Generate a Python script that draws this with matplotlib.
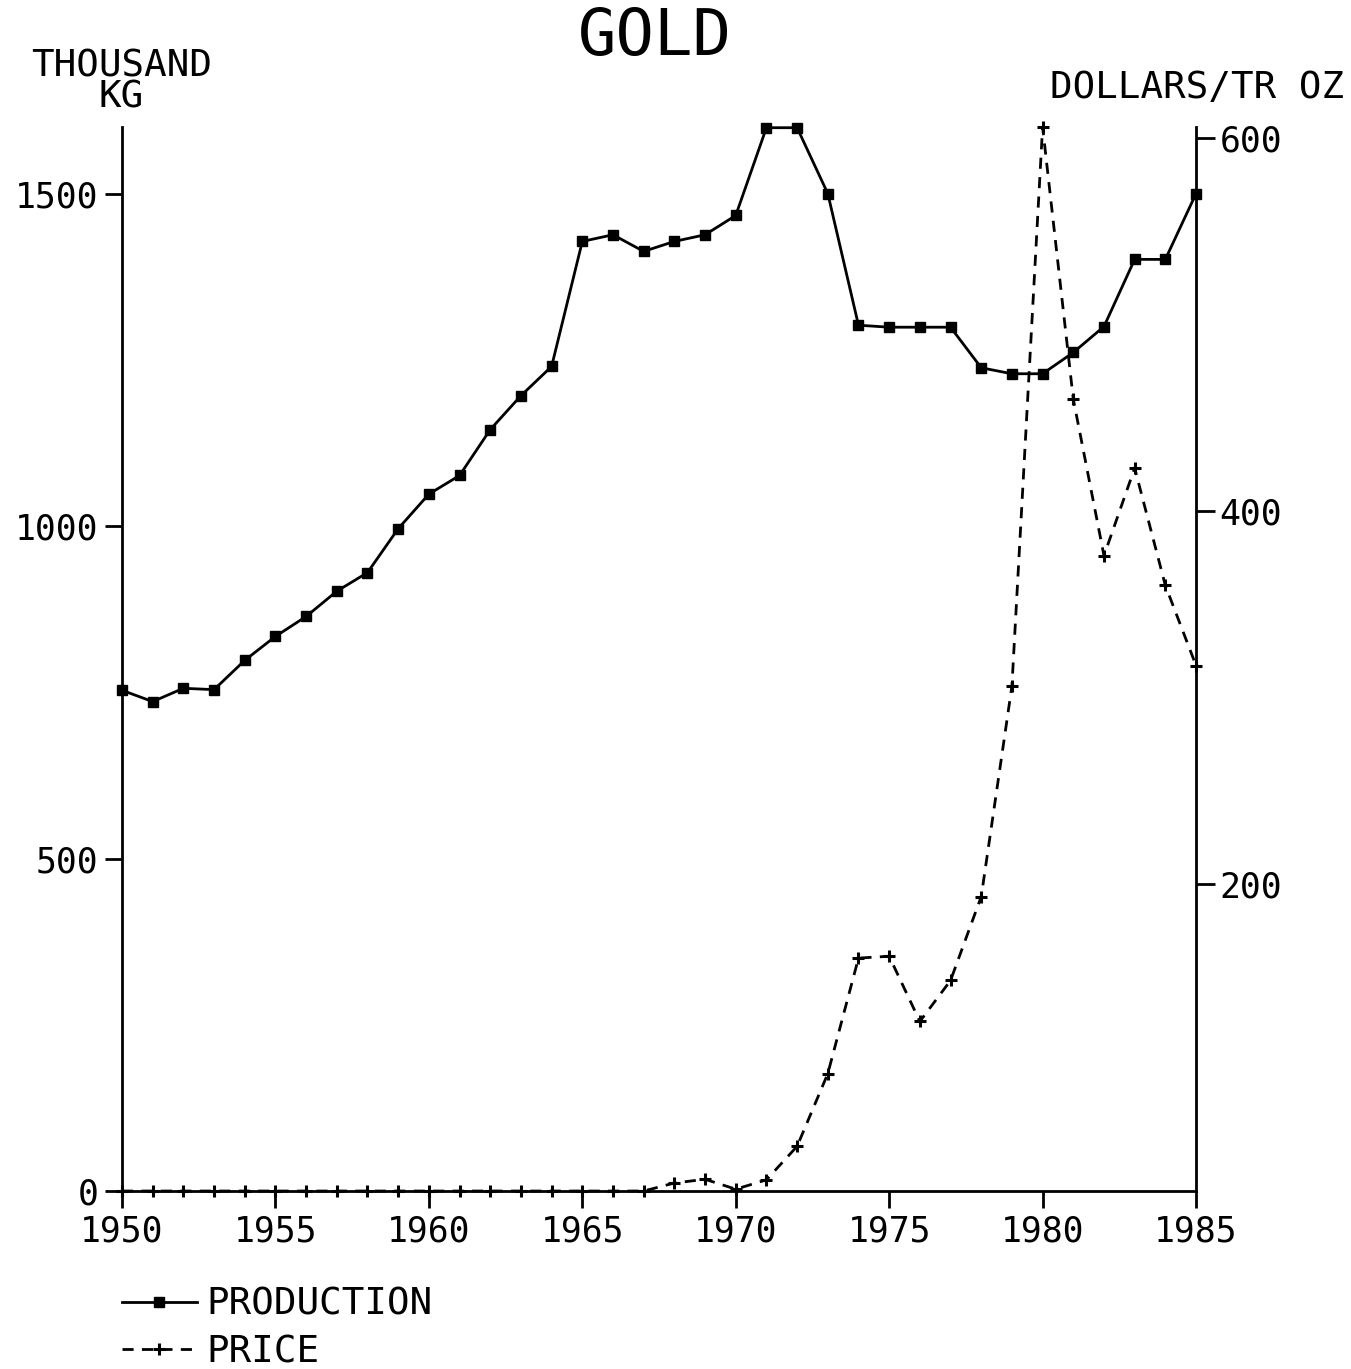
import matplotlib
matplotlib.use("Agg")
import matplotlib.pyplot as plt
from matplotlib.lines import Line2D

# world gold production (thousand kg) and price (dollars per troy ounce)
years = list(range(1950, 1986))
production = [753, 736, 756, 754, 798, 834, 864, 902, 930, 996,
              1048, 1076, 1145, 1196, 1240, 1428, 1438, 1413, 1428, 1438,
              1467, 1599, 1599, 1500, 1302, 1299, 1299, 1299, 1238, 1229,
              1229, 1261, 1300, 1401, 1401, 1500]
price = [35, 35, 35, 35, 35, 35, 35, 35, 35, 35,
         35, 35, 35, 35, 35, 35, 35, 35, 39.3, 41.3,
         36, 41, 59, 98, 160, 161, 126, 148, 193, 306,
         606, 460, 376, 423, 360, 317]

plt.rcParams['font.family'] = ['DejaVu Sans Mono']

fig = plt.figure(figsize=(13.51, 13.69), dpi=100)
ax = fig.add_axes([0.0903, 0.1300, 0.7950, 0.7772])
ax2 = ax.twinx()

lw = 2.0
ax.plot(years, production, color='black', lw=lw, marker='s', ms=7, clip_on=False, zorder=3)
ax2.plot(years, price, color='black', lw=lw, ls=(0, (4, 3)), marker='+', ms=9, mew=2.2,
         clip_on=False, zorder=3)

ax.set_xlim(1950, 1985)
ax.set_ylim(0, 1600)
ax2.set_ylim(35, 606)

ax.set_xticks(range(1950, 1986, 5))
ax.set_yticks([0, 500, 1000, 1500])
ax2.set_yticks([200, 400, 600])

for a in (ax, ax2):
    a.spines['top'].set_visible(False)
    for s in a.spines.values():
        s.set_linewidth(lw)
ax.spines['right'].set_visible(False)
ax2.spines['left'].set_visible(False)
ax2.spines['bottom'].set_visible(False)

ax.tick_params(axis='both', direction='out', length=12, width=lw, labelsize=25, pad=5)
ax2.tick_params(axis='y', direction='out', length=14, width=lw, labelsize=25, pad=3)

fig.text(0.485, 0.973, 'GOLD', fontsize=46, ha='center', va='center')
fig.text(0.090, 0.940, 'THOUSAND\nKG', fontsize=27, ha='center', va='center', linespacing=0.8)
fig.text(0.995, 0.936, 'DOLLARS/TR OZ', fontsize=27, ha='right', va='center')

handles = [Line2D([], [], color='black', lw=lw, marker='s', ms=7),
           Line2D([], [], color='black', lw=lw, ls=(0, (4, 3)), marker='+', ms=9, mew=2.2)]
fig.legend(handles, ['PRODUCTION', 'PRICE'], loc='upper left', bbox_to_anchor=(0.090, 0.060),
           frameon=False, fontsize=27, handlelength=2.0, handletextpad=0.25, labelspacing=0.3,
           borderpad=0, borderaxespad=0)

fig.savefig('out.png', dpi=100)
